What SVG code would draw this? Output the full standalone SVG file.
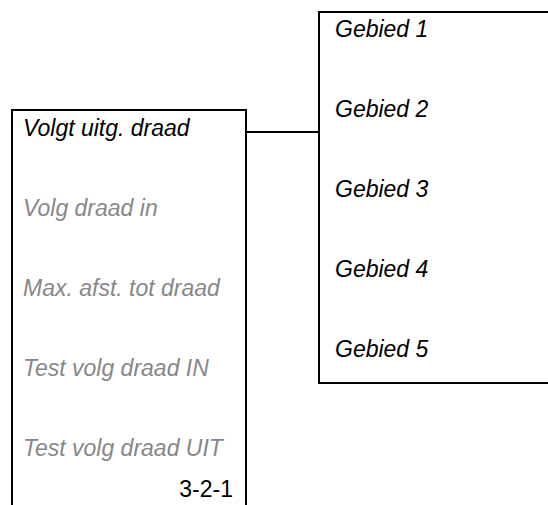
<svg xmlns="http://www.w3.org/2000/svg" width="548" height="505" viewBox="0 0 548 505">
<style>
.ln{stroke:#000;stroke-width:2;fill:none}
.t{font-family:"Liberation Sans",Arial,sans-serif;font-size:23px;font-style:italic;fill:#000}
.g{fill:#878787}
.n{font-family:"Liberation Sans",Arial,sans-serif;font-size:23px;fill:#000}
</style>
<rect width="548" height="505" fill="#fff"/>
<g id="menu-left">
<path class="ln" d="M12,505 V110 H246 V505"/>
<text class="t" x="23" y="136">Volgt uitg. draad</text>
<text class="t g" x="23" y="216">Volg draad in</text>
<text class="t g" x="23" y="296">Max. afst. tot draad</text>
<text class="t g" x="23" y="376">Test volg draad IN</text>
<text class="t g" x="23" y="456">Test volg draad UIT</text>
<text class="n" x="233" y="497" text-anchor="end">3-2-1</text>
</g>
<g id="menu-right">
<path class="ln" d="M548,12 H319 V383 H548"/>
<text class="t" x="335" y="37">Gebied 1</text>
<text class="t" x="335" y="117">Gebied 2</text>
<text class="t" x="335" y="197">Gebied 3</text>
<text class="t" x="335" y="277">Gebied 4</text>
<text class="t" x="335" y="357">Gebied 5</text>
</g>
<g id="connectors">
<line class="ln" x1="246" y1="132" x2="319" y2="132"/>
</g>
</svg>
